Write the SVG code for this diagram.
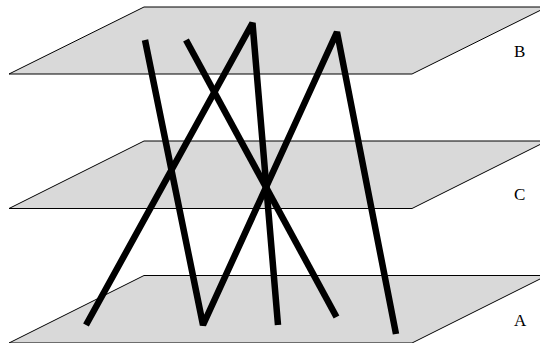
<svg xmlns="http://www.w3.org/2000/svg" width="540" height="343" viewBox="0 0 540 343">
<style>
.plane{fill:#d9d9d9;stroke:#000;stroke-width:1}
.conn{fill:none;stroke:#000;stroke-width:6.500;stroke-linejoin:bevel;stroke-linecap:butt}
text{font-family:"Liberation Serif",serif;font-size:17px;fill:#000}
</style>
<g id="plane-B"><polygon class="plane" points="144,7 547,7 412,74 9,74"/><text x="514" y="57">B</text></g>
<g id="plane-C"><polygon class="plane" points="144,141 547,141 412,208.500 9,208.500"/><text x="514" y="200">C</text></g>
<g id="plane-A"><polygon class="plane" points="144,275.500 547,275.500 412,343 9,343"/><text x="514" y="326">A</text></g>
<g id="connectors">
<polyline class="conn" points="86,325 252.500,23 278,325"/>
<polyline class="conn" points="145,40 203,325 337,32 396,334"/>
<line class="conn" x1="186" y1="40" x2="336.500" y2="317"/>
</g>
</svg>
